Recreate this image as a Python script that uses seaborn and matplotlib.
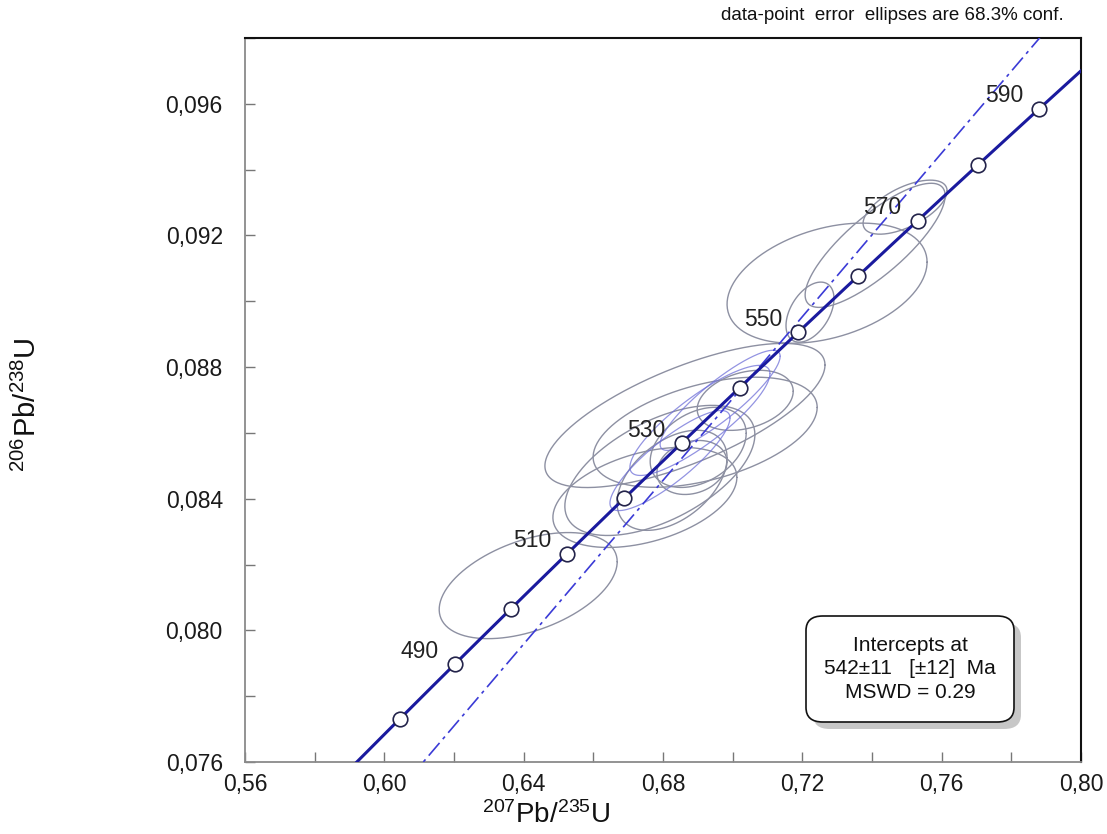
import numpy as np
import pandas as pd
import matplotlib
matplotlib.use("Agg")
import matplotlib.pyplot as plt
import seaborn as sns
from matplotlib.ticker import MultipleLocator, FuncFormatter
from matplotlib.patches import FancyBboxPatch

# ---------------- data ----------------
LAMBDA_235 = 9.8485e-10
LAMBDA_238 = 1.55125e-10

curve_ages = np.arange(470, 601, 1)               # Ma, concordia curve sampling
marker_ages = [480, 490, 500, 510, 520, 530, 540, 550, 560, 570, 580, 590]
label_ages = [490, 510, 530, 550, 570, 590]
upper_intercept = 542.0   # Ma
lower_intercept = 0.0     # Ma

# error ellipses: centre (207Pb/235U, 206Pb/238U), half-widths, error correlation
ell_x   = [0.6413, 0.6748, 0.6791, 0.6921, 0.6863, 0.7036, 0.6901, 0.6883, 0.6826,
           0.7222, 0.7271, 0.7409, 0.7495, 0.6906, 0.6964, 0.6820]
ell_y   = [0.08136, 0.08404, 0.08486, 0.08602, 0.08653, 0.08699, 0.08556, 0.08495, 0.08456,
           0.08967, 0.09055, 0.09170, 0.09286, 0.08638, 0.08699, 0.08516]
ell_sx  = [0.02555, 0.02641, 0.02728, 0.03216, 0.04020, 0.01378, 0.01378, 0.01005, 0.01579,
           0.00689, 0.02871, 0.02010, 0.01206, 0.02010, 0.01723, 0.01723]
ell_sy  = [0.001612, 0.001521, 0.001977, 0.001673, 0.002190, 0.000913, 0.001217, 0.000821, 0.001521,
           0.000913, 0.001825, 0.001886, 0.000821, 0.001673, 0.001521, 0.001521]
ell_rho = [0.45, 0.40, 0.55, 0.45, 0.70, 0.30, 0.35, 0.20, 0.45,
           0.45, 0.35, 0.80, 0.60, 0.85, 0.88, 0.85]
ell_group = ["grey"] * 13 + ["blue"] * 3

box_lines = ["Intercepts at", "542\u00b111   [\u00b112]  Ma", "MSWD = 0.29"]
note_text = "data-point  error  ellipses are 68.3% conf."

# ---------------- helpers ----------------
def concordia_xy(t_ma):
    t = np.asarray(t_ma, dtype=float) * 1e6
    return np.exp(LAMBDA_235 * t) - 1.0, np.exp(LAMBDA_238 * t) - 1.0

# ---------------- style ----------------
sns.set_theme(style="white")
plt.rcParams["font.family"] = ["Liberation Sans", "DejaVu Sans"]
plt.rcParams["mathtext.fontset"] = "custom"
plt.rcParams["mathtext.rm"] = "Liberation Sans"
plt.rcParams["mathtext.it"] = "Liberation Sans:italic"
plt.rcParams["mathtext.bf"] = "Liberation Sans:bold"
plt.rcParams["mathtext.default"] = "regular"

DPI = 100
fig = plt.figure(figsize=(11.07, 8.34), dpi=DPI)
ax = fig.add_axes([245 / 1107, 1 - 762 / 834, (1081 - 245) / 1107, (762 - 38) / 834])

# ellipses
theta = np.linspace(0, 2 * np.pi, 200)
for x0, y0, sx, sy, r, g in zip(ell_x, ell_y, ell_sx, ell_sy, ell_rho, ell_group):
    cov = np.array([[sx * sx, r * sx * sy], [r * sx * sy, sy * sy]])
    Lc = np.linalg.cholesky(cov)
    pts = Lc @ np.vstack([np.cos(theta), np.sin(theta)])
    if g == "grey":
        ax.plot(x0 + pts[0], y0 + pts[1], color="#8d90a2", lw=1.0, zorder=2)
    else:
        ax.plot(x0 + pts[0], y0 + pts[1], color="#6f70d8", lw=0.9, alpha=0.75, zorder=2)

# discordia (through lower and upper intercepts)
xu, yu = concordia_xy(upper_intercept)
xl, yl = concordia_xy(lower_intercept)
slope = (yu - yl) / (xu - xl)
y_ends = np.array([0.0755, 0.0985])
x_ends = xl + (y_ends - yl) / slope
ax.plot(x_ends, y_ends, color="#3b3bd6", lw=1.2, linestyle=(0, (10, 3, 2, 3)), zorder=3)

# concordia curve
cx, cy = concordia_xy(curve_ages)
curve_df = pd.DataFrame({"x": cx, "y": cy})
sns.lineplot(data=curve_df, x="x", y="y", sort=False, estimator=None,
             color="#1a1a9e", lw=2.2, ax=ax, zorder=4)

# age markers
mx, my = concordia_xy(marker_ages)
mk_df = pd.DataFrame({"x": mx, "y": my})
sns.scatterplot(data=mk_df, x="x", y="y", s=110, color="white",
                edgecolor="#23234a", linewidth=1.2, ax=ax, zorder=5)

for a in label_ages:
    lx, ly = concordia_xy(a)
    ax.annotate(str(a), (lx, ly), xytext=(-35, 13), textcoords="offset pixels",
                ha="center", va="center", fontsize=16.5, color="#222222", zorder=6)

# axes
ax.set_xlim(0.56, 0.80)
ax.set_ylim(0.076, 0.098)
ax.xaxis.set_major_locator(MultipleLocator(0.04))
ax.xaxis.set_minor_locator(MultipleLocator(0.02))
ax.yaxis.set_major_locator(MultipleLocator(0.004))
ax.yaxis.set_minor_locator(MultipleLocator(0.002))
ax.xaxis.set_major_formatter(FuncFormatter(lambda v, p: f"{v:.2f}".replace(".", ",")))
ax.yaxis.set_major_formatter(FuncFormatter(lambda v, p: f"{v:.3f}".replace(".", ",")))
ax.tick_params(axis="both", which="both", direction="in", length=7, width=1.0,
               color="#777777", bottom=True, left=True, top=False, right=False)
ax.tick_params(axis="x", which="major", labelsize=16.5, pad=8, labelcolor="#1a1a1a")
ax.tick_params(axis="y", which="major", labelsize=16.5, pad=16, labelcolor="#1a1a1a")
ax.set_xlabel("")
ax.set_ylabel("")
for s in ["left", "bottom"]:
    ax.spines[s].set_color("#8a8a8a")
    ax.spines[s].set_linewidth(1.3)
for s in ["top", "right"]:
    ax.spines[s].set_color("#111111")
    ax.spines[s].set_linewidth(1.5)

fig.text(546 / 1107, 1 - 801 / 834, r"$^{207}$Pb/$^{235}$U", ha="center", va="top",
         fontsize=20, color="#111111")
fig.text(27 / 1107, 1 - 405 / 834, r"$^{206}$Pb/$^{238}$U", ha="center", va="center",
         rotation=90, fontsize=21, color="#111111")
fig.text(1064 / 1107, 1 - 15 / 834, note_text, ha="right", va="center",
         fontsize=13.5, color="#111111")

# intercept box with shadow
bx0, bx1 = (806 - 245) / 836, (1014 - 245) / 836
by0, by1 = (762 - 722) / 724, (762 - 616) / 724
dx, dy = 7 / 836, -7 / 724
shadow = FancyBboxPatch((bx0 + dx, by0 + dy), bx1 - bx0, by1 - by0,
                        boxstyle="round,pad=0,rounding_size=0.02",
                        transform=ax.transAxes, facecolor="#9a9a9a", edgecolor="none",
                        alpha=0.55, zorder=7, clip_on=False)
box = FancyBboxPatch((bx0, by0), bx1 - bx0, by1 - by0,
                     boxstyle="round,pad=0,rounding_size=0.02",
                     transform=ax.transAxes, facecolor="white", edgecolor="#111111",
                     lw=1.2, zorder=8, clip_on=False)
ax.add_patch(shadow)
ax.add_patch(box)
ax.text((bx0 + bx1) / 2, (by0 + by1) / 2, "\n".join(box_lines), transform=ax.transAxes,
        ha="center", va="center", fontsize=15, linespacing=1.3, color="#111111", zorder=9)

fig.savefig("out.png", dpi=DPI)
